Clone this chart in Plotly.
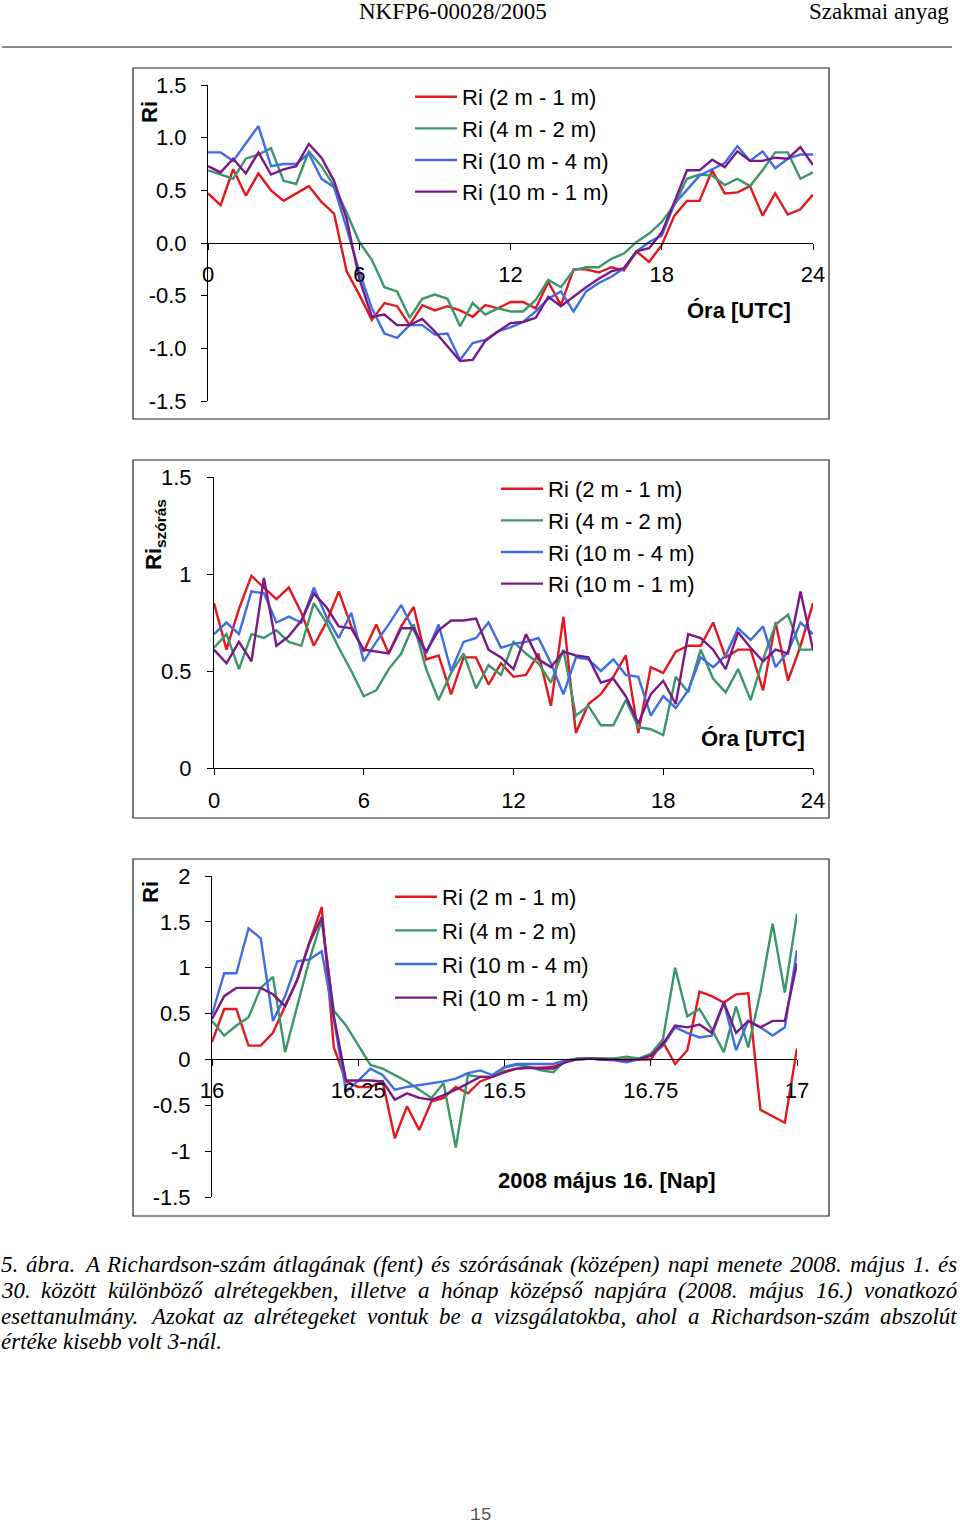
import plotly.graph_objects as go

W, H = 960, 1527

# ---------------- data ----------------
series_names = ["Ri (2 m - 1 m)", "Ri (4 m - 2 m)", "Ri (10 m - 4 m)", "Ri (10 m - 1 m)"]
colors = ["#E5171C", "#3B9669", "#3E6DE4", "#7A1888"]

hours = [i * 0.5 for i in range(49)]          # 0 .. 24 UTC, half-hourly
days = [16 + i / 48 for i in range(49)]       # 16.0 .. 17.0 (2008 May 16), half-hourly

# Top chart: mean Ri
mean_2_1 = [0.47, 0.36, 0.70, 0.45, 0.66, 0.50, 0.40, 0.47, 0.54, 0.39,
            0.28, -0.27, -0.49, -0.73, -0.57, -0.60, -0.78, -0.59, -0.64, -0.60,
            -0.64, -0.70, -0.59, -0.62, -0.56, -0.56, -0.62, -0.37, -0.59, -0.25,
            -0.25, -0.28, -0.23, -0.26, -0.08, -0.18, -0.02, 0.26, 0.40, 0.40,
            0.69, 0.47, 0.48, 0.54, 0.26, 0.47, 0.27, 0.32, 0.46]
mean_4_2 = [0.69, 0.65, 0.61, 0.80, 0.84, 0.90, 0.59, 0.56, 0.87, 0.73,
            0.54, 0.29, 0.01, -0.16, -0.42, -0.46, -0.71, -0.53, -0.49, -0.53,
            -0.79, -0.57, -0.68, -0.62, -0.65, -0.65, -0.54, -0.35, -0.42, -0.26,
            -0.23, -0.23, -0.15, -0.10, 0.01, 0.09, 0.20, 0.36, 0.61, 0.65,
            0.64, 0.55, 0.61, 0.54, 0.69, 0.86, 0.86, 0.61, 0.67]
mean_10_4 = [0.86, 0.86, 0.78, 0.95, 1.11, 0.73, 0.75, 0.75, 0.85, 0.61,
             0.53, 0.14, -0.27, -0.62, -0.86, -0.90, -0.78, -0.78, -0.87, -0.86,
             -1.11, -0.95, -0.92, -0.84, -0.80, -0.75, -0.65, -0.53, -0.46, -0.65,
             -0.46, -0.38, -0.32, -0.24, -0.08, 0.01, 0.07, 0.37, 0.51, 0.64,
             0.70, 0.76, 0.92, 0.78, 0.87, 0.71, 0.80, 0.84, 0.84]
mean_10_1 = [0.73, 0.67, 0.80, 0.66, 0.86, 0.65, 0.70, 0.73, 0.94, 0.81,
             0.59, 0.23, -0.34, -0.70, -0.68, -0.78, -0.78, -0.72, -0.84, -0.98,
             -1.12, -1.11, -0.93, -0.84, -0.76, -0.75, -0.71, -0.51, -0.60, -0.51,
             -0.42, -0.34, -0.27, -0.24, -0.08, -0.05, 0.10, 0.39, 0.69, 0.69,
             0.79, 0.72, 0.87, 0.78, 0.78, 0.81, 0.80, 0.91, 0.74]

# Middle chart: standard deviation of Ri
std_2_1 = [0.85, 0.61, 0.82, 0.99, 0.93, 0.87, 0.93, 0.80, 0.63, 0.75,
           0.91, 0.73, 0.60, 0.74, 0.59, 0.73, 0.83, 0.56, 0.58, 0.38,
           0.57, 0.57, 0.43, 0.54, 0.47, 0.48, 0.59, 0.32, 0.78, 0.18,
           0.33, 0.38, 0.47, 0.58, 0.18, 0.52, 0.49, 0.60, 0.63, 0.63,
           0.75, 0.57, 0.61, 0.61, 0.40, 0.75, 0.45, 0.63, 0.85]
std_4_2 = [0.62, 0.69, 0.51, 0.69, 0.67, 0.71, 0.65, 0.63, 0.85, 0.75,
           0.62, 0.50, 0.37, 0.40, 0.51, 0.59, 0.74, 0.51, 0.35, 0.49,
           0.59, 0.41, 0.53, 0.48, 0.65, 0.59, 0.54, 0.44, 0.61, 0.27,
           0.32, 0.22, 0.22, 0.35, 0.21, 0.20, 0.17, 0.47, 0.39, 0.61,
           0.46, 0.39, 0.51, 0.35, 0.56, 0.74, 0.79, 0.61, 0.61]
std_10_4 = [0.69, 0.75, 0.69, 0.91, 0.90, 0.75, 0.78, 0.75, 0.93, 0.78,
            0.67, 0.80, 0.55, 0.65, 0.74, 0.84, 0.71, 0.59, 0.74, 0.50,
            0.65, 0.67, 0.75, 0.62, 0.64, 0.65, 0.67, 0.54, 0.38, 0.57,
            0.56, 0.50, 0.56, 0.48, 0.47, 0.27, 0.37, 0.31, 0.40, 0.57,
            0.52, 0.58, 0.72, 0.66, 0.73, 0.52, 0.60, 0.75, 0.69]
std_10_1 = [0.61, 0.54, 0.65, 0.55, 0.98, 0.63, 0.68, 0.76, 0.90, 0.83,
            0.73, 0.72, 0.61, 0.60, 0.59, 0.72, 0.72, 0.60, 0.71, 0.76,
            0.76, 0.77, 0.61, 0.57, 0.51, 0.69, 0.56, 0.52, 0.60, 0.58,
            0.57, 0.44, 0.46, 0.37, 0.23, 0.38, 0.45, 0.33, 0.69, 0.67,
            0.61, 0.51, 0.70, 0.62, 0.55, 0.61, 0.59, 0.91, 0.61]

# Bottom chart: case study, 2008 May 16
case_2_1 = [0.19, 0.55, 0.55, 0.15, 0.15, 0.29, 0.58, 0.87, 1.28, 1.66,
            0.13, -0.24, -0.30, -0.30, -0.24, -0.86, -0.51, -0.77, -0.46, -0.42,
            -0.30, -0.37, -0.24, -0.19, -0.13, -0.10, -0.09, -0.09, -0.08, -0.03,
            0.01, 0.01, 0.01, 0.00, 0.00, 0.00, 0.00, 0.19, -0.05, 0.10,
            0.74, 0.69, 0.62, 0.71, 0.72, -0.55, -0.62, -0.69, 0.12]
case_4_2 = [0.42, 0.26, 0.37, 0.46, 0.78, 0.90, 0.08, 0.58, 1.09, 1.52,
            0.53, 0.37, 0.15, -0.06, -0.10, -0.17, -0.24, -0.33, -0.42, -0.26,
            -0.96, -0.17, -0.19, -0.19, -0.09, -0.06, -0.08, -0.12, -0.14, -0.01,
            0.01, 0.01, 0.01, 0.01, 0.03, 0.01, 0.06, 0.22, 1.00, 0.47,
            0.55, 0.33, 0.08, 0.58, 0.13, 0.73, 1.48, 0.73, 1.59]
case_10_4 = [0.49, 0.94, 0.94, 1.43, 1.32, 0.42, 0.69, 1.07, 1.09, 1.18,
             0.44, -0.35, -0.23, -0.10, -0.17, -0.33, -0.30, -0.28, -0.26, -0.24,
             -0.21, -0.15, -0.12, -0.17, -0.08, -0.05, -0.05, -0.05, -0.05, -0.01,
             0.00, 0.01, 0.00, -0.01, -0.03, 0.00, 0.04, 0.15, 0.35, 0.29,
             0.24, 0.26, 0.62, 0.10, 0.42, 0.35, 0.26, 0.35, 1.19]
case_10_1 = [0.44, 0.69, 0.78, 0.78, 0.78, 0.71, 0.58, 0.87, 1.27, 1.55,
             0.47, -0.23, -0.23, -0.23, -0.24, -0.44, -0.37, -0.42, -0.44, -0.39,
             -0.33, -0.26, -0.19, -0.19, -0.14, -0.10, -0.09, -0.10, -0.10, -0.03,
             0.00, 0.01, 0.00, 0.00, -0.01, 0.00, 0.04, 0.17, 0.37, 0.35,
             0.38, 0.29, 0.62, 0.29, 0.42, 0.35, 0.42, 0.42, 1.05]

# tick labels
hour_ticks = [0, 6, 12, 18, 24]
hour_ticktext = ["0", "6", "12", "18", "24"]
day_ticks = [16, 16.25, 16.5, 16.75, 17]
day_ticktext = ["16", "16.25", "16.5", "16.75", "17"]
y1_ticks = [-1.5, -1.0, -0.5, 0.0, 0.5, 1.0, 1.5]
y1_ticktext = ["-1.5", "-1.0", "-0.5", "0.0", "0.5", "1.0", "1.5"]
y2_ticks = [0, 0.5, 1, 1.5]
y2_ticktext = ["0", "0.5", "1", "1.5"]
y3_ticks = [-1.5, -1, -0.5, 0, 0.5, 1, 1.5, 2]
y3_ticktext = ["-1.5", "-1", "-0.5", "0", "0.5", "1", "1.5", "2"]

header_center = "NKFP6-00028/2005"
header_right = "Szakmai anyag"
caption_lines = [
    "5. ábra. A Richardson-szám átlagának (fent) és szórásának (középen) napi menete 2008. május 1. és",
    "30. között különböző alrétegekben, illetve a hónap középső napjára (2008. május 16.) vonatkozó",
    "esettanulmány. Azokat az alrétegeket vontuk be a vizsgálatokba, ahol a Richardson-szám abszolút",
    "értéke kisebb volt 3-nál.",
]
page_number = "15"

# ---------------- helpers ----------------
def px(x):
    return x / W


def py(y):
    return 1 - y / H


SANS = "Liberation Sans"
SERIF = "Liberation Serif"
FS = 22

fig = go.Figure()

panels = [
    (hours, [mean_2_1, mean_4_2, mean_10_4, mean_10_1], "x", "y", "legend"),
    (hours, [std_2_1, std_4_2, std_10_4, std_10_1], "x2", "y2", "legend2"),
    (days, [case_2_1, case_4_2, case_10_4, case_10_1], "x3", "y3", "legend3"),
]
for pi, (xs, ys_list, xa, ya, lg) in enumerate(panels):
    for si, ys in enumerate(ys_list):
        fig.add_trace(go.Scatter(
            x=xs, y=ys, mode="lines", name=series_names[si],
            line=dict(color=colors[si], width=2.4),
            xaxis=xa, yaxis=ya, legend=lg,
            legendgroup=f"p{pi}s{si}",
        ))

axis_common = dict(showgrid=False, zeroline=False, showline=True, linecolor="black",
                   linewidth=1, ticks="outside", ticklen=6, tickcolor="black",
                   tickfont=dict(family=SANS, size=FS, color="black"))

legend_common = dict(xanchor="left", yanchor="top", bgcolor="rgba(0,0,0,0)",
                     font=dict(family=SANS, size=FS), itemwidth=42)

fig.update_layout(
    width=W, height=H, margin=dict(l=0, r=0, t=0, b=0, autoexpand=False),
    paper_bgcolor="white", plot_bgcolor="rgba(0,0,0,0)",
    font=dict(family=SANS, size=FS, color="black"),
    hovermode=False,
    # chart 1
    xaxis=dict(domain=[px(208), px(813)], range=[0, 24], anchor="free", position=py(243),
               tickvals=hour_ticks, ticktext=hour_ticktext, ticklabelstandoff=6, **axis_common),
    yaxis=dict(domain=[py(401), py(85)], range=[-1.5, 1.5], anchor="x",
               tickvals=y1_ticks, ticktext=y1_ticktext, ticklabelstandoff=10, **axis_common),
    # chart 2
    xaxis2=dict(domain=[px(214), px(813)], range=[0, 24], anchor="y2",
                tickvals=hour_ticks, ticktext=hour_ticktext, ticklabelstandoff=7, **axis_common),
    yaxis2=dict(domain=[py(768), py(477)], range=[0, 1.5], anchor="x2",
                tickvals=y2_ticks, ticktext=y2_ticktext, ticklabelstandoff=11, **axis_common),
    # chart 3
    xaxis3=dict(domain=[px(212), px(797)], range=[16, 17], anchor="free", position=py(1059),
                tickvals=day_ticks, ticktext=day_ticktext, ticklabelstandoff=6, **axis_common),
    yaxis3=dict(domain=[py(1197), py(876)], range=[-1.5, 2], anchor="x3",
                tickvals=y3_ticks, ticktext=y3_ticktext, ticklabelstandoff=10, **axis_common),
    legend=dict(x=px(410), y=py(76), tracegroupgap=0, **legend_common),
    legend2=dict(x=px(496), y=py(468), tracegroupgap=0, **legend_common),
    legend3=dict(x=px(390), y=py(876), tracegroupgap=2, **legend_common),
)

shapes = []
# chart frames
for (x0, y0, x1, y1) in [(133, 68, 829, 419), (133, 460, 829, 818), (133, 859, 829, 1216)]:
    shapes.append(dict(type="rect", xref="paper", yref="paper", x0=px(x0), x1=px(x1),
                       y0=py(y1), y1=py(y0), line=dict(color="#222222", width=1.2)))
# header rule
shapes.append(dict(type="line", xref="paper", yref="paper", x0=px(2), x1=px(952),
                   y0=py(47), y1=py(47), line=dict(color="#666666", width=1.6)))
fig.update_layout(shapes=shapes)

ann = []


def add_text(text, x, y, xanchor="center", yanchor="middle", size=FS, family=SANS,
             color="black", angle=0):
    ann.append(dict(text=text, x=px(x), y=py(y), xref="paper", yref="paper",
                    xanchor=xanchor, yanchor=yanchor, showarrow=False, textangle=angle,
                    font=dict(family=family, size=size, color=color)))


# header
add_text(header_center, 453, 11, family=SERIF, size=23)
add_text(header_right, 951, 11, xanchor="right", family=SERIF, size=23)

# axis titles
add_text("<b>Ri</b>", 150, 112, angle=-90)
add_text("<b>Óra [UTC]</b>", 739, 311)
add_text("<b>Ri<sub>szórás</sub></b>", 155, 535, angle=-90)
add_text("<b>Óra [UTC]</b>", 753, 738)
add_text("<b>Ri</b>", 150, 892, angle=-90)
add_text("<b>2008 május 16. [Nap]</b>", 607, 1180)

# caption, justified with Times italic metrics
TI = {' ': 250, '.': 250, ',': 250, '(': 333, ')': 333, '-': 333,
      'A': 611, 'R': 611,
      'a': 500, 'á': 500, 'b': 500, 'c': 444, 'd': 500, 'e': 444, 'é': 444, 'f': 278,
      'g': 500, 'h': 500, 'i': 278, 'í': 278, 'j': 278, 'k': 444, 'l': 278, 'm': 722,
      'n': 500, 'o': 500, 'ó': 500, 'ö': 500, 'ő': 500, 'p': 500, 'r': 389, 's': 389,
      't': 278, 'u': 500, 'ú': 500, 'ü': 500, 'v': 444, 'y': 444, 'z': 389}
CAP_FS = 23


def wwidth(w):
    return sum(TI.get(c, 500) for c in w) * CAP_FS / 1000


cap_y = [1264, 1290, 1316, 1341]
for li, line in enumerate(caption_lines):
    words = line.split(" ")
    if li < len(caption_lines) - 1:
        total = sum(wwidth(w) for w in words)
        gap = (957 - 1 - total) / (len(words) - 1)
        xcur = 1
        for w in words:
            add_text("<i>" + w + "</i>", xcur - 2, cap_y[li], xanchor="left",
                     family=SERIF, size=CAP_FS)
            xcur += wwidth(w) + gap
    else:
        add_text("<i>" + line + "</i>", -1, cap_y[li], xanchor="left",
                 family=SERIF, size=CAP_FS)

add_text(page_number, 481, 1515, family="Liberation Mono", size=18, color="#555555")

fig.update_layout(annotations=ann)
fig.write_html("out.html", config={"displayModeBar": False, "staticPlot": True},
               post_script="document.body.style.margin='0';")
